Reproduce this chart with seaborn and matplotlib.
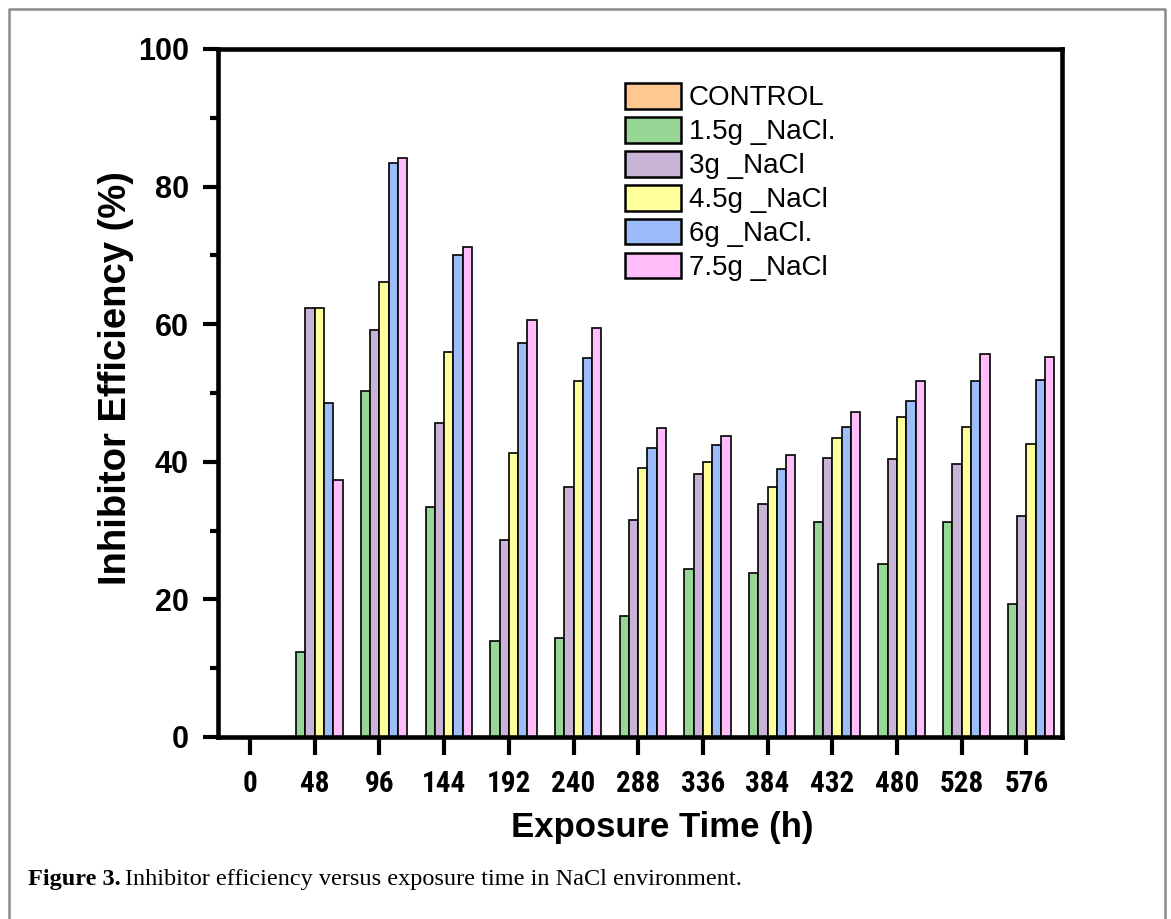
import matplotlib
matplotlib.use("Agg")
import matplotlib.pyplot as plt
from matplotlib import font_manager
from matplotlib.lines import Line2D
from matplotlib.ticker import MultipleLocator
import seaborn as sns
import pandas as pd

# ---- data ----
times = ["0", "48", "96", "144", "192", "240", "288", "336", "384", "432", "480", "528", "576"]
series = ["CONTROL", "1.5g _NaCl.", "3g _NaCl", "4.5g _NaCl", "6g _NaCl.", "7.5g _NaCl"]
control = [0, 0, 0, 0, 0, 0, 0, 0, 0, 0, 0, 0, 0]
nacl_1_5 = [0, 12.3, 50.3, 33.5, 13.9, 14.4, 17.6, 24.4, 23.9, 31.2, 25.1, 31.3, 19.3]
nacl_3 = [0, 62.3, 59.1, 45.7, 28.6, 36.3, 31.5, 38.2, 33.8, 40.5, 40.4, 39.7, 32.1]
nacl_4_5 = [0, 62.3, 66.2, 55.9, 41.3, 51.7, 39.1, 39.9, 36.3, 43.5, 46.5, 45.1, 42.6]
nacl_6 = [0, 48.5, 83.5, 70.1, 57.2, 55.1, 42.0, 42.5, 38.9, 45.0, 48.8, 51.7, 51.9]
nacl_7_5 = [0, 37.3, 84.1, 71.2, 60.6, 59.5, 44.9, 43.7, 41.0, 47.3, 51.8, 55.7, 55.2]
colors = ["#FFC891", "#96D796", "#C9B4D8", "#FFFF9B", "#9CBDFA", "#FFBEFA"]

values = [control, nacl_1_5, nacl_3, nacl_4_5, nacl_6, nacl_7_5]
rows = []
for s, vals in zip(series, values):
    for t, v in zip(times, vals):
        rows.append({"time": t, "eff": v, "series": s})
df = pd.DataFrame(rows)

# ---- fonts ----
fl = font_manager.fontManager.ttflist
avail = {f.name for f in fl}
sans = "Liberation Sans" if "Liberation Sans" in avail else "DejaVu Sans"
serif = "Liberation Serif" if "Liberation Serif" in avail else "DejaVu Serif"
narrow_family, narrow_stretch = sans, "normal"
for cand in ["Liberation Sans Narrow", "Arial Narrow", "Roboto Condensed", "Open Sans Condensed"]:
    if cand in avail:
        narrow_family = cand
        break
else:
    for f in fl:
        if f.stretch in ("condensed", "semi-condensed") and f.weight in ("bold", 700):
            narrow_family, narrow_stretch = f.name, f.stretch
            break

sns.set_theme(style="white")
plt.rcParams["font.family"] = [sans, "DejaVu Sans"]
for k in ["text.color", "axes.labelcolor", "xtick.color", "ytick.color", "axes.edgecolor"]:
    plt.rcParams[k] = "black"

W, H = 1171, 919
fig = plt.figure(figsize=(11.71, 9.19), dpi=100)
ax_l, ax_r, ax_t, ax_b = 218, 1062, 49, 737
ax = fig.add_axes([ax_l / W, 1 - ax_b / H, (ax_r - ax_l) / W, (ax_b - ax_t) / H])

sns.barplot(data=df, x="time", y="eff", hue="series", order=times, hue_order=series,
            palette=colors, width=0.86, edgecolor="black", linewidth=1.2,
            errorbar=None, ax=ax, saturation=1)

px_per_unit = 64.7
ax.set_xlim(-(250 - ax_l) / px_per_unit, (ax_r - 250) / px_per_unit)
ax.set_ylim(0, 100)
ax.yaxis.set_major_locator(MultipleLocator(20))
ax.yaxis.set_minor_locator(MultipleLocator(10))

for sp in ax.spines.values():
    sp.set_linewidth(3.3)
    sp.set_color("black")
    sp.set_visible(True)

ax.tick_params(axis="y", which="major", direction="out", length=11, width=3, left=True,
               right=False, pad=10, labelsize=22)
ax.tick_params(axis="y", which="minor", direction="out", length=6, width=3, left=True, right=False)
ax.tick_params(axis="x", which="major", direction="out", length=13, width=3, bottom=True,
               top=False, pad=11, labelsize=21)
for lab in ax.get_yticklabels():
    lab.set_fontweight("bold")
    lab.set_family(sans)
for lab in ax.get_xticklabels():
    lab.set_fontweight("bold")
    lab.set_family(narrow_family)
    lab.set_fontstretch(narrow_stretch)

ax.set_xlabel("Exposure Time (h)", fontsize=25, fontweight="bold", va="center")
ax.set_ylabel("Inhibitor Efficiency (%)", fontsize=27.5, fontweight="bold", va="center")
ax.xaxis.set_label_coords((662 - ax_l) / (ax_r - ax_l), (ax_b - 827) / (ax_b - ax_t))
ax.yaxis.set_label_coords((116 - ax_l) / (ax_r - ax_l), (ax_b - 378) / (ax_b - ax_t))

handles, labels = ax.get_legend_handles_labels()
if ax.get_legend() is not None:
    ax.get_legend().remove()
leg = ax.legend(handles, labels, loc="upper left",
                bbox_to_anchor=((625 - ax_l) / (ax_r - ax_l), (ax_b - 83) / (ax_b - ax_t)),
                frameon=False, fontsize=20, handlelength=2.0, handleheight=1.05, labelspacing=0.2,
                handletextpad=0.3, borderpad=0, borderaxespad=0)
for h in leg.legend_handles:
    h.set_linewidth(1.8)

# page frame (left, top, right) and caption
frame_x = [9 / W, 9 / W, 1165 / W, 1165 / W]
frame_y = [0, 1 - 9 / H, 1 - 9 / H, 0]
fig.add_artist(Line2D(frame_x, frame_y, transform=fig.transFigure, color="#8a8a8a", lw=1.8))

t1 = fig.text(28 / W, 1 - 880 / H, "Figure 3.", fontsize=17.5, fontweight="bold",
              family=serif, va="center", ha="left")
fig.canvas.draw()
bb = t1.get_window_extent()
fig.text((bb.x1 + 4) / W, 1 - 880 / H, "Inhibitor efficiency versus exposure time in NaCl environment.",
         fontsize=17.5, family=serif, va="center", ha="left")

fig.savefig("out.png", dpi=100)
